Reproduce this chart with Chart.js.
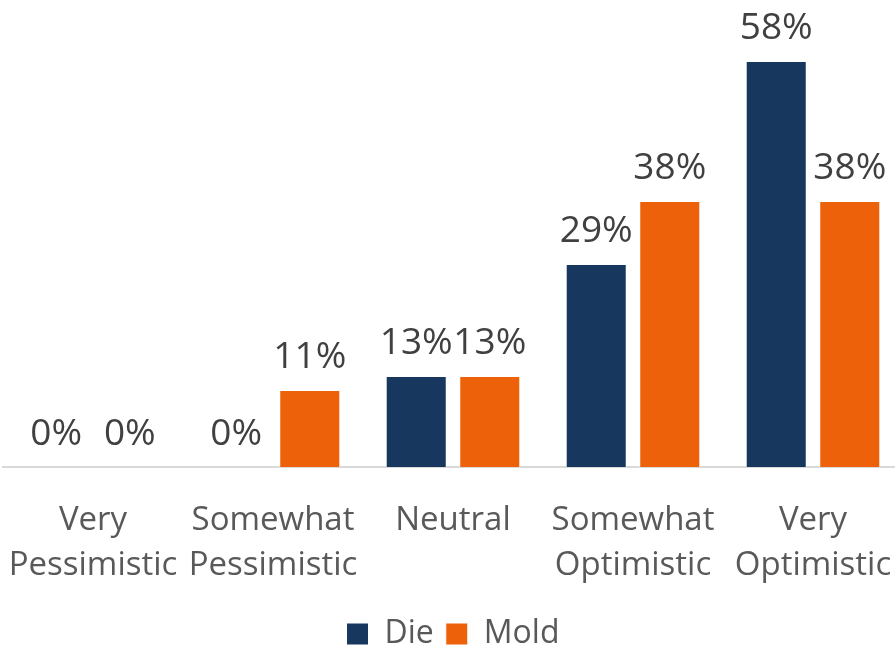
<!DOCTYPE html>
<html lang="en">
<head>
    <meta charset="UTF-8">
    <title>Die / Mold Outlook</title>
    <script src="https://cdn.jsdelivr.net/npm/chart.js"></script>
    <style>
        html, body { margin: 0; padding: 0; background: #fff; overflow: hidden; }
        #chart { display: block; }
    </style>
</head>
<body>
    <canvas id="chart" width="905" height="660"></canvas>
    <script>
        // data
        const categories = [
            ['Very', 'Pessimistic'],
            ['Somewhat', 'Pessimistic'],
            ['Neutral'],
            ['Somewhat', 'Optimistic'],
            ['Very', 'Optimistic']
        ];
        const dieValues = [0, 0, 13, 29, 58];
        const moldValues = [0, 11, 13, 38, 38];

        const FONT = '"Open Sans", "DejaVu Sans", sans-serif';

        // draws the "xx%" labels above every bar
        const barLabels = {
            id: 'barLabels',
            afterDatasetsDraw(chart) {
                const ctx = chart.ctx;
                ctx.save();
                ctx.font = '37px ' + FONT;
                ctx.fillStyle = '#404040';
                ctx.textAlign = 'center';
                ctx.textBaseline = 'alphabetic';
                chart.data.datasets.forEach((ds, i) => {
                    chart.getDatasetMeta(i).data.forEach((bar, j) => {
                        ctx.fillText(ds.data[j] + '%', bar.x, bar.y - 22);
                    });
                });
                ctx.restore();
            }
        };

        new Chart(document.getElementById('chart'), {
            type: 'bar',
            data: {
                labels: categories,
                datasets: [
                    {
                        label: 'Die',
                        data: dieValues,
                        backgroundColor: '#17375e',
                        borderColor: '#ffffff',
                        borderWidth: 1
                    },
                    {
                        label: 'Mold',
                        data: moldValues,
                        backgroundColor: '#ec610a',
                        borderColor: '#ffffff',
                        borderWidth: 1
                    }
                ]
            },
            options: {
                responsive: false,
                animation: false,
                categoryPercentage: 0.817,
                barPercentage: 0.83,
                layout: { padding: { left: 3, right: 2, top: 0, bottom: 0 } },
                scales: {
                    x: {
                        // invisible tick marks give the vertical gap without side padding
                        grid: {
                            display: true,
                            drawOnChartArea: false,
                            drawTicks: true,
                            tickLength: 31,
                            color: 'rgba(0,0,0,0)'
                        },
                        border: { color: '#d9d9d9', width: 2 },
                        ticks: {
                            color: '#595959',
                            font: { family: FONT, size: 33, lineHeight: 1.36 },
                            padding: 0,
                            maxRotation: 0,
                            autoSkip: false
                        },
                        afterFit(axis) {
                            axis.height = 139;
                        }
                    },
                    y: {
                        display: false,
                        min: 0,
                        max: 66.7
                    }
                },
                plugins: {
                    legend: {
                        position: 'bottom',
                        labels: {
                            color: '#595959',
                            font: { family: FONT, size: 32 },
                            boxWidth: 22,
                            boxHeight: 22,
                            padding: 12
                        }
                    },
                    tooltip: { enabled: false }
                }
            },
            plugins: [barLabels]
        });
    </script>
</body>
</html>
